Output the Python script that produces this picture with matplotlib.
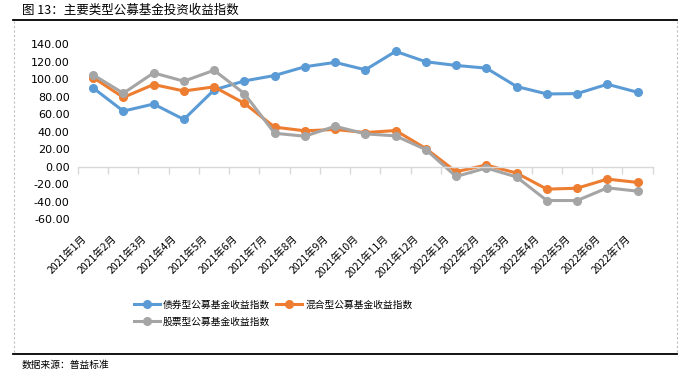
import matplotlib.pyplot as plt
from matplotlib.lines import Line2D

plt.rcParams['font.family'] = ['Noto Sans CJK SC', 'DejaVu Sans']

months = ['2021年1月', '2021年2月', '2021年3月', '2021年4月', '2021年5月', '2021年6月',
          '2021年7月', '2021年8月', '2021年9月', '2021年10月', '2021年11月', '2021年12月',
          '2022年1月', '2022年2月', '2022年3月', '2022年4月', '2022年5月', '2022年6月',
          '2022年7月']
bond = [89.8, 63.3, 71.4, 53.8, 87.5, 97.8, 104.0, 114.0, 119.0, 110.5, 131.6, 119.7,
        115.5, 112.4, 91.4, 82.9, 83.3, 94.0, 84.8]
mixed = [101.7, 79.0, 93.7, 86.3, 91.0, 72.2, 45.0, 40.8, 42.3, 38.8, 41.1, 20.5,
         -6.0, 1.7, -7.5, -25.9, -24.8, -14.4, -18.2]
stock = [104.8, 83.7, 107.0, 97.5, 110.0, 83.3, 38.0, 34.6, 46.0, 37.3, 35.0, 19.3,
         -11.4, -1.7, -12.0, -38.9, -38.9, -24.4, -28.2]
names = ['债券型公募基金收益指数', '混合型公募基金收益指数', '股票型公募基金收益指数']
colors = ['#5B9BD5', '#ED7D31', '#A5A5A5']
yticks = [-60, -40, -20, 0, 20, 40, 60, 80, 100, 120, 140]

W, H = 690, 376
fig = plt.figure(figsize=(6.9, 3.76), dpi=100)
ax = fig.add_axes([0.113, 1 - 219 / H, 0.833, (219 - 44) / H])

x = list(range(len(months)))
for vals, name, c in zip([bond, mixed, stock], names, colors):
    ax.plot(x, vals, color=c, lw=2.2, marker='o', ms=5.5, label=name,
            solid_joinstyle='round', solid_capstyle='round')

ax.set_xlim(-0.5, len(months) - 0.5)
ax.set_ylim(-60, 140)
ax.set_yticks(yticks)
ax.set_yticklabels(['%.2f' % v for v in yticks], fontsize=8, family='DejaVu Sans')
ax.tick_params(axis='y', length=0, pad=6)

for s in ['top', 'right', 'left']:
    ax.spines[s].set_visible(False)
ax.spines['bottom'].set_position(('data', 0))
ax.spines['bottom'].set_color('#D9D9D9')
ax.spines['bottom'].set_linewidth(1)
ax.set_xticks([i - 0.5 for i in range(len(months) + 1)])
ax.set_xticklabels([])
ax.tick_params(axis='x', length=5, width=1, color='#D9D9D9', direction='out')

trans = ax.get_xaxis_transform()
for i, m in enumerate(months):
    ax.text(i - 0.4, -0.08, m, transform=trans, rotation=45, ha='right', va='top',
            rotation_mode='anchor', fontsize=7.5)

# legend: column-wise fill, so order gives bond/mixed on row 1, stock on row 2
order = [0, 2, 1]
handles = [Line2D([], [], color=colors[k], lw=2.2, marker='o', ms=5.5) for k in order]
fig.legend(handles, [names[k] for k in order], loc='center',
           bbox_to_anchor=(273 / W, 1 - 313 / H), ncol=2, frameon=False,
           fontsize=7, handlelength=2.7, columnspacing=0.6,
           handletextpad=0.3, labelspacing=0.7)

# title, frame and source
fig.text(22 / W, 1 - 10 / H, '图 13：主要类型公募基金投资收益指数', fontsize=9,
         weight='medium', va='center', ha='left')
for yy in (20, 354):
    fig.add_artist(Line2D([13 / W, 677 / W], [1 - yy / H, 1 - yy / H], color='black', lw=1.3))
for xx in (14, 677):
    fig.add_artist(Line2D([xx / W, xx / W], [1 - 21 / H, 1 - 353 / H], color='#BFBFBF',
                          lw=0.8, ls=(0, (2, 2))))
fig.text(22 / W, 1 - 365 / H, '数据来源：普益标准', fontsize=7, va='center', ha='left')

fig.savefig('out.png', dpi=100)
